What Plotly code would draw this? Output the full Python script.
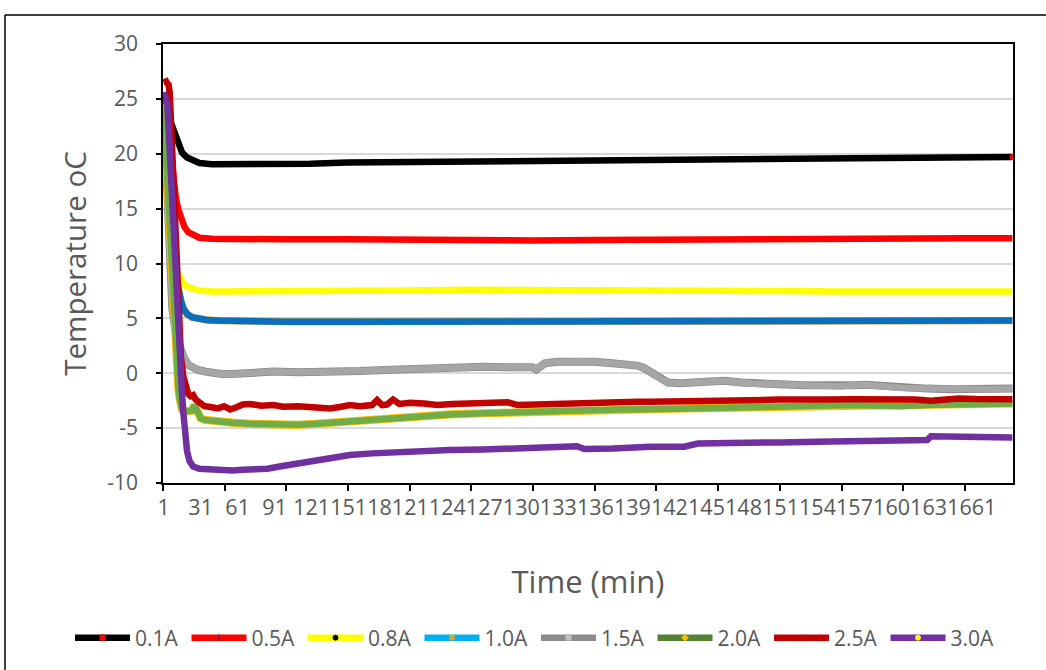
import plotly.graph_objects as go

# ---- data: temperature (degC) versus time (min) for each current setting ----
SERIES_NAMES = ["0.1A", "0.5A", "0.8A", "1.0A", "1.5A", "2.0A", "2.5A", "3.0A"]

t_01 = [1, 3, 5, 7, 9, 11, 13, 16, 20, 25, 30, 40, 60, 90, 120, 150, 200, 250, 300,
        350, 400, 450, 500, 550, 600, 650, 689]
v_01 = [24.6, 24.0, 23.3, 22.7, 22.1, 21.3, 20.7, 20.1, 19.65, 19.35, 19.15, 19.05, 19.05,
        19.1, 19.1, 19.2, 19.25, 19.3, 19.35, 19.4, 19.45, 19.5, 19.55, 19.6, 19.7, 19.7, 19.7]

t_05 = [1, 3, 5, 7, 9, 11, 13, 15, 18, 21, 25, 30, 40, 60, 100, 150, 200, 250, 300, 350,
        400, 450, 500, 550, 600, 650, 689]
v_05 = [24.6, 24.7, 22.0, 19.5, 17.3, 15.9, 14.9, 14.1, 13.3, 12.85, 12.55, 12.35, 12.25,
        12.2, 12.2, 12.2, 12.15, 12.1, 12.1, 12.15, 12.2, 12.2, 12.2, 12.25, 12.25, 12.3, 12.3]

t_08 = [1, 2, 3, 4, 5, 6, 7, 8, 9, 10, 11, 12, 14, 17, 20, 24, 29, 40, 60, 100, 150, 200,
        250, 300, 350, 400, 450, 500, 550, 600, 650, 689]
v_08 = [24.0, 22.5, 20.8, 19.0, 17.2, 15.5, 14.0, 12.6, 11.4, 10.5, 9.8, 9.3, 8.7, 8.2, 7.9,
        7.7, 7.55, 7.45, 7.45, 7.45, 7.5, 7.55, 7.6, 7.6, 7.6, 7.55, 7.5, 7.5, 7.45, 7.45,
        7.45, 7.45]

t_10 = [1, 2, 3, 4, 5, 6, 7, 8, 9, 10, 11, 12, 13, 15, 17, 20, 24, 29, 36, 45, 60, 100,
        150, 200, 250, 300, 350, 400, 450, 500, 550, 600, 650, 689]
v_10 = [24.2, 22.5, 20.5, 18.5, 16.5, 14.7, 13.0, 11.7, 10.6, 9.6, 8.8, 8.1, 7.5, 6.6, 5.9,
        5.4, 5.1, 4.95, 4.85, 4.8, 4.75, 4.7, 4.7, 4.7, 4.72, 4.75, 4.75, 4.75, 4.75, 4.78,
        4.8, 4.8, 4.8, 4.8]

t_15 = [1, 3, 6, 8, 11, 14, 17, 21, 25, 29, 35, 40, 48, 60, 75, 90, 110, 120, 140, 160,
        180, 200, 220, 240, 260, 280, 300, 303, 305, 310, 320, 330, 340, 350, 360, 370, 380,
        385, 390, 395, 400, 405, 410, 420, 435, 455, 470, 480, 500, 520, 535, 550, 560, 570,
        585, 600, 620, 640, 655, 670, 689]
v_15 = [24.5, 19.0, 9.7, 6.0, 3.5, 2.4, 1.5, 0.75, 0.45, 0.3, 0.15, 0.05, -0.06, -0.05,
        0.1, 0.15, 0.1, 0.1, 0.15, 0.2, 0.3, 0.4, 0.5, 0.55, 0.6, 0.55, 0.55, 0.35, 0.55,
        0.9, 1.05, 1.1, 1.1, 1.05, 0.95, 0.9, 0.8, 0.7, 0.5, 0.2, -0.2, -0.6, -0.85, -0.9,
        -0.78, -0.68, -0.85, -0.95, -1.0, -1.1, -1.15, -1.2, -1.1, -1.05, -1.2, -1.35, -1.4,
        -1.45, -1.45, -1.45, -1.4]

t_20 = [1, 2, 3, 4, 5, 6, 7, 8, 9, 10, 11, 12, 13, 14, 15, 16, 18, 20, 22, 24, 26, 28, 31,
        34, 40, 50, 57, 71, 85, 98, 110, 125, 150, 179, 200, 233, 260, 274, 301, 315, 341,
        369, 396, 423, 450, 477, 500, 530, 558, 580, 599, 620, 640, 660, 689]
v_20 = [24.3, 22.0, 19.5, 17.0, 14.5, 12.0, 9.5, 7.2, 5.0, 3.0, 1.3, -0.2, -1.4, -2.3,
        -2.9, -3.3, -3.5, -3.5, -3.45, -3.4, -2.9, -3.3, -4.1, -4.25, -4.35, -4.45, -4.5,
        -4.6, -4.65, -4.75, -4.7, -4.6, -4.4, -4.1, -3.95, -3.75, -3.65, -3.6, -3.5, -3.4,
        -3.35, -3.3, -3.28, -3.2, -3.15, -3.1, -3.05, -3.0, -2.9, -2.95, -3.0, -2.9, -2.85,
        -2.8, -2.75]

t_25 = [1, 2, 3, 4, 5, 6, 7, 8, 9, 10, 11, 12, 13, 14, 15, 17, 19, 21, 23, 25, 27, 30, 34,
        38, 45, 50, 55, 60, 65, 71, 80, 90, 98, 110, 125, 136, 145, 152, 160, 170, 174, 178,
        182, 187, 192, 201, 212, 223, 235, 250, 260, 271, 280, 288, 300, 315, 330, 341, 355,
        370, 385, 396, 410, 425, 436, 455, 477, 500, 520, 540, 558, 575, 590, 610, 623, 635,
        645, 660, 675, 689]
v_25 = [26.5, 26.6, 26.6, 26.4, 26.3, 25.5, 23.0, 20.0, 17.0, 14.0, 11.0, 8.0, 5.5, 3.3,
        1.5, -0.3, -1.3, -1.9, -2.1, -2.0, -2.4, -2.7, -3.0, -3.05, -3.2, -3.0, -3.3, -3.1,
        -2.85, -2.8, -2.95, -2.9, -3.05, -3.0, -3.1, -3.2, -3.05, -2.9, -3.0, -2.9, -2.45,
        -2.9, -2.85, -2.4, -2.8, -2.7, -2.75, -2.9, -2.8, -2.75, -2.7, -2.6, -2.65, -2.9,
        -2.85, -2.75, -2.8, -2.7, -2.7, -2.65, -2.6, -2.6, -2.55, -2.5, -2.45, -2.45, -2.45,
        -2.4, -2.45, -2.4, -2.37, -2.35, -2.3, -2.4, -2.5, -2.4, -2.3, -2.35, -2.35, -2.37]

t_30 = [1, 2, 3, 4, 5, 6, 7, 8, 9, 10, 11, 12, 13, 14, 15, 16, 17, 18, 19, 20, 22, 25, 30,
        40, 50, 57, 65, 75, 85, 95, 105, 112, 125, 138, 152, 170, 185, 201, 220, 233, 260,
        290, 315, 336, 342, 350, 365, 396, 410, 423, 434, 450, 477, 500, 530, 558, 590, 620,
        623, 650, 670, 689]
v_30 = [25.6, 25.3, 25.0, 24.6, 22.5, 20.0, 17.5, 15.0, 12.6, 10.3, 8.0, 5.8, 3.7, 1.7,
        -0.2, -2.0, -3.6, -5.0, -6.2, -7.1, -8.0, -8.5, -8.7, -8.8, -8.85, -8.85, -8.8, -8.8,
        -8.7, -8.5, -8.3, -8.2, -7.95, -7.65, -7.45, -7.3, -7.2, -7.1, -7.05, -7.0, -6.95,
        -6.85, -6.8, -6.65, -6.9, -6.92, -6.85, -6.7, -6.7, -6.7, -6.4, -6.35, -6.32, -6.3,
        -6.25, -6.23, -6.15, -6.08, -5.75, -5.8, -5.85, -5.85]

# category-axis labels (every 30th minute)
X_TICK_LABELS = ["1", "31", "61", "91", "121", "151", "181", "211", "241", "271", "301",
                 "331", "361", "391", "421", "451", "481", "511", "541", "571", "601",
                 "631", "661"]
Y_TICK_LABELS = ["-10", "-5", "0", "5", "10", "15", "20", "25", "30"]
N_POINTS = 689

# ---- styling ----
FONT = "Open Sans"
TXT = "#595959"

# (time, values, plotted colour, outline colour or None, outline extra width)
drawn = [
    (t_01, v_01, "#000000", None, 0),
    (t_05, v_05, "#FF0000", None, 0),
    (t_08, v_08, "#FFFF00", None, 0),
    (t_10, v_10, "#0A70BE", "#C9A33A", 0.8),
    (t_15, v_15, "#A6A6A6", "#8A8A8A", 1.5),
    (t_20, v_20, "#70AD47", "#FFC000", 1.6),
    (t_25, v_25, "#C00000", None, 0),
    (t_30, v_30, "#7030A0", None, 0),
]

# legend swatches: (line colour, marker symbol, marker colour)
legend_style = [
    ("#000000", "square", "#FF0000"),
    ("#FF0000", "line-ns", "#1F3864"),
    ("#FFFF00", "circle", "#000000"),
    ("#00B0F0", "x", "#D8A82A"),
    ("#8C8C8C", "square", "#BFBFBF"),
    ("#548235", "diamond", "#FFC000"),
    ("#C00000", "circle", "#C00000"),
    ("#7030A0", "circle", "#FFFF00"),
]

LW = 6.5
fig = go.Figure()

for name, (t, v, col, edge, extra) in zip(SERIES_NAMES, drawn):
    if edge:
        fig.add_trace(go.Scatter(x=t, y=v, mode="lines", showlegend=False, hoverinfo="skip",
                                 line=dict(color=edge, width=LW + extra)))
    fig.add_trace(go.Scatter(x=t, y=v, mode="lines", name=name, showlegend=False,
                             line=dict(color=col, width=LW)))

# end-point marker on the 0.1A series
fig.add_trace(go.Scatter(x=[t_01[-1]], y=[v_01[-1]], mode="markers", showlegend=False,
                         hoverinfo="skip",
                         marker=dict(symbol="square", size=5, color="#FF0000")))

for name, (lc, sym, mc) in zip(SERIES_NAMES, legend_style):
    fig.add_trace(go.Scatter(x=[None], y=[None], mode="lines+markers", name=name,
                             line=dict(color=lc, width=LW),
                             marker=dict(symbol=sym, size=5, color=mc,
                                         line=dict(color=mc, width=1))))

tick_vals = [int(s) for s in X_TICK_LABELS]
y_tick_vals = [float(s) for s in Y_TICK_LABELS]
minor_vals = [0.5 + 50 * k for k in range(14)]

L, R, T, B = 163, 1013, 44, 483
W, H = 1046, 670


def px_x(p):
    return (p - L) / (R - L)


def px_y(p):
    return (B - p) / (B - T)


fig.update_layout(
    width=W, height=H,
    margin=dict(l=L, r=W - R, t=T, b=H - B),
    paper_bgcolor="white", plot_bgcolor="white",
    font=dict(family=FONT, color=TXT),
    xaxis=dict(
        range=[0.5, N_POINTS + 0.5],
        tickmode="array", tickvals=tick_vals, ticktext=X_TICK_LABELS,
        tickangle=0, ticks="", ticklabelstandoff=4,
        tickfont=dict(size=21.5, color=TXT, family=FONT),
        showgrid=False, zeroline=False,
        showline=True, linecolor="black", linewidth=1.5, mirror=True,
        minor=dict(tickmode="array", tickvals=minor_vals, ticks="outside",
                   ticklen=6, tickwidth=1.5, tickcolor="black", showgrid=False),
        title=dict(text="Time (min)", font=dict(size=31, color=TXT, family=FONT),
                   standoff=52),
    ),
    yaxis=dict(
        range=[-10, 30], tickmode="array", tickvals=y_tick_vals, ticktext=Y_TICK_LABELS,
        ticks="outside", ticklen=5, tickwidth=1.5, tickcolor="black",
        ticklabelstandoff=14,
        tickfont=dict(size=21, color=TXT, family=FONT),
        showgrid=True, gridcolor="#D9D9D9", gridwidth=1.5, zeroline=False,
        showline=True, linecolor="black", linewidth=1.5, mirror=True,
        title=dict(text="Temperature oC", font=dict(size=29.5, color=TXT, family=FONT),
                   standoff=12),
    ),
    legend=dict(
        orientation="h", x=px_x(70), xanchor="left", y=px_y(638), yanchor="middle",
        font=dict(size=21, color=TXT, family=FONT),
        entrywidth=46.5, entrywidthmode="pixels", itemwidth=55,
        bgcolor="rgba(0,0,0,0)",
    ),
    shapes=[
        dict(type="line", xref="paper", yref="paper", x0=px_x(5), x1=px_x(W),
             y0=px_y(15), y1=px_y(15), line=dict(color="black", width=1.5)),
        dict(type="line", xref="paper", yref="paper", x0=px_x(5), x1=px_x(5),
             y0=px_y(15), y1=px_y(H), line=dict(color="black", width=1.5)),
    ],
)

fig.write_html("out.html")
